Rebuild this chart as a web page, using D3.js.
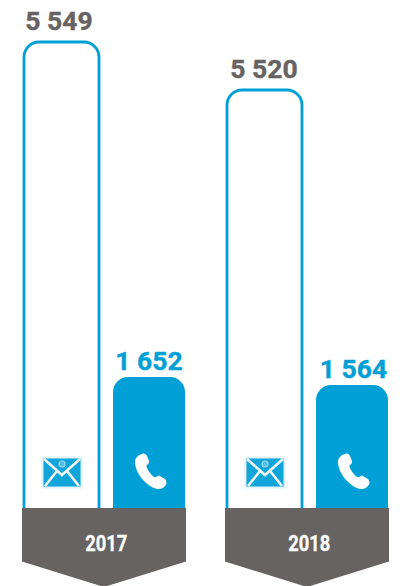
<!DOCTYPE html>
<html><head><meta charset="utf-8">
<script src="https://cdn.jsdelivr.net/npm/d3@7/dist/d3.min.js"></script>
<style>html,body{margin:0;padding:0;background:#fff}svg{display:block}text{font-family:Roboto,sans-serif;font-weight:700}</style>
</head><body><svg id="c" width="405" height="586"></svg>
<script>
const years = ["2017", "2018"];
const channels = ["mail", "phone"];
const mailValues = [5549, 5520];
const phoneValues = [1652, 1564];
const mailLabels = ["5 549", "5 520"];
const phoneLabels = ["1 652", "1 564"];
// The source's bars are not drawn in strict proportion: piecewise scale reproduces them.
const valueDomain = [0, 1564, 1652, 5520, 5549];
const heightRange = [508, 385, 377, 90, 42];

const BLUE = "#00a0d6", GREY = "#676362";
const svg = d3.select("#c");
const x0 = d3.scaleBand().domain(years).range([22, 389]).paddingInner(39 / 203);
const x1 = d3.scaleBand().domain(channels).range([2, 163]).paddingInner(17 / 89);
const y = d3.scaleLinear().domain(valueDomain).range(heightRange);

function topRounded(x, yTop, w, yBot, r) {
  const p = d3.path();
  p.moveTo(x, yBot);
  p.lineTo(x, yTop + r);
  p.arcTo(x, yTop, x + r, yTop, r);
  p.lineTo(x + w - r, yTop);
  p.arcTo(x + w, yTop, x + w, yTop + r, r);
  p.lineTo(x + w, yBot);
  return p;
}

const groups = svg.selectAll("g.year").data(years).join("g").attr("class", "year")
  .attr("transform", d => `translate(${x0(d)},0)`);

// mail bars (outlined)
groups.append("path")
  .attr("d", (d, i) => topRounded(x1("mail"), y(mailValues[i]), x1.bandwidth() + 3, y(0), 15).toString())
  .attr("fill", "#fff").attr("stroke", BLUE).attr("stroke-width", 2.8);

// phone bars (filled)
groups.append("path")
  .attr("d", (d, i) => { const p = topRounded(x1("phone"), y(phoneValues[i]), x1.bandwidth(), y(0), 15); p.closePath(); return p.toString(); })
  .attr("fill", BLUE);

// value labels
groups.append("text")
  .attr("x", (d, i) => x1("mail") + [35, 37][i])
  .attr("y", (d, i) => y(mailValues[i]) - 12.5)
  .attr("text-anchor", "middle").attr("font-size", 26.5).attr("fill", GREY)
  .attr("stroke", GREY).attr("stroke-width", 0.4)
  .text((d, i) => mailLabels[i]);
groups.append("text")
  .attr("x", (d, i) => x1("phone") + x1.bandwidth() / 2 + [0, 1.5][i])
  .attr("y", (d, i) => y(phoneValues[i]) - 7.5)
  .attr("text-anchor", "middle").attr("font-size", 26.5).attr("fill", BLUE)
  .attr("stroke", BLUE).attr("stroke-width", 0.4)
  .text((d, i) => phoneLabels[i]);

// band with arrow
const bw = x0.bandwidth(), base = y(0);
groups.append("path")
  .attr("d", d3.line()([[0, base], [bw, base], [bw, base + 53.5], [bw / 2, base + 79], [0, base + 53.5]]) + "Z")
  .attr("fill", GREY);
groups.append("text")
  .attr("x", bw / 2 + 2.2).attr("y", base + 43)
  .attr("text-anchor", "middle").attr("font-size", 22).attr("fill", "#fff")
  .attr("stroke", "#fff").attr("stroke-width", 0.3)
  .attr("textLength", 42).attr("lengthAdjust", "spacingAndGlyphs")
  .text(d => d);

// mail icon
const mail = groups.append("g").attr("transform", `translate(${x1("mail") + 19},458)`);
mail.append("rect").attr("x", -2).attr("y", -2).attr("width", 42).attr("height", 33).attr("rx", 3).attr("fill", "#eef7fb");
mail.append("rect").attr("x", 0).attr("y", 0).attr("width", 38).attr("height", 29).attr("rx", 1.5).attr("fill", "#12a5d9").attr("stroke", "#d5eef8").attr("stroke-width", 1);
mail.append("path").attr("d", "M1,1L19,17L37,1M2,28L14,13M36,28L24,13").attr("fill", "none").attr("stroke", "#eef9fd").attr("stroke-width", 2.6);
mail.append("circle").attr("cx", 19).attr("cy", 6).attr("r", 3).attr("fill", "#55bde3").attr("stroke", "#9ad8ef").attr("stroke-width", 1.2);

// phone icon
const phone = groups.append("g").attr("transform", `translate(${x1("phone") + 21},453)`);
phone.append("path")
  .attr("d", "M8,1C10,0 12,1 13,3L15,8C15.500,10 14,11 12.500,12.500C12,14 15,20 20,24C22,25 23,23 25,22.500L31,26C33,28 33,31 31,33C28,37 22,37 16,33C7,27 1,17 1,9C1,5 4,2 8,1Z")
  .attr("fill", "#fff");
</script></body></html>
